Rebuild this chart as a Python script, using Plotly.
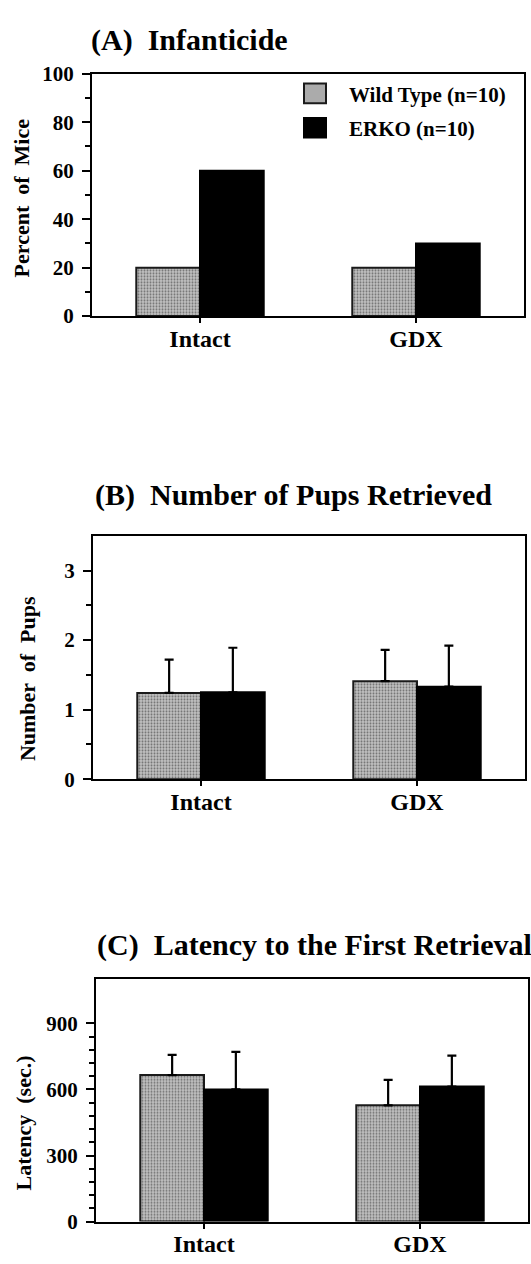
import plotly.graph_objects as go

# ---- data ----
groups = ["Intact", "GDX"]
series_names = ["Wild Type (n=10)", "ERKO (n=10)"]

infanticide_wt = [20, 20]
infanticide_erko = [60, 30]

pups_wt = [1.24, 1.41]
pups_wt_err = [0.48, 0.45]
pups_erko = [1.25, 1.33]
pups_erko_err = [0.64, 0.59]

latency_wt = [665, 528]
latency_wt_err = [92, 115]
latency_erko = [600, 613]
latency_erko_err = [170, 140]

panel_titles = ["(A)  Infanticide", "(B)  Number of Pups Retrieved",
                "(C)  Latency to the First Retrieval"]
y_titles = ["Percent  of  Mice", "Number  of  Pups", "Latency  (sec.)"]

# ---- page geometry (pixels) ----
W, H = 531, 1264
SERIF = "Liberation Serif, Times New Roman, serif"


def px_x(v):
    return v / W


def px_y(v):
    return 1 - v / H


# left, right, top, bottom of each plot box
boxes = [(92, 524, 63, 310), (93, 525, 534, 782), (96, 528, 986, 1233)]

WT_FILL = dict(shape=".", size=3, solidity=0.35, fgcolor="#707070",
               bgcolor="#c2c2c2", fillmode="replace")


def wt_marker():
    return dict(color="#ababab", pattern=WT_FILL,
                line=dict(color="#1a1a1a", width=2))


def erko_marker():
    return dict(color="black", line=dict(color="black", width=2))


def err(vals):
    return dict(type="data", symmetric=False, array=vals,
                arrayminus=[0] * len(vals), color="black",
                thickness=2.2, width=4.5)


fig = go.Figure()

panels = [
    (infanticide_wt, None, infanticide_erko, None),
    (pups_wt, pups_wt_err, pups_erko, pups_erko_err),
    (latency_wt, latency_wt_err, latency_erko, latency_erko_err),
]

for i, (wt, wt_e, ko, ko_e) in enumerate(panels):
    xa = "x" if i == 0 else f"x{i + 1}"
    ya = "y" if i == 0 else f"y{i + 1}"
    fig.add_trace(go.Bar(x=groups, y=wt, name=series_names[0],
                         marker=wt_marker(), xaxis=xa, yaxis=ya,
                         offsetgroup="wt", showlegend=False,
                         error_y=err(wt_e) if wt_e else None))
    fig.add_trace(go.Bar(x=groups, y=ko, name=series_names[1],
                         marker=erko_marker(), xaxis=xa, yaxis=ya,
                         offsetgroup="ko", showlegend=False,
                         error_y=err(ko_e) if ko_e else None))

y_ranges = [[0, 100], [0, 3.5], [0, 1100]]
y_ticks = [[0, 20, 40, 60, 80, 100], [0, 1, 2, 3], [0, 300, 600, 900]]
y_minor = [
    [v for v in range(10, 100, 20)],
    [0.5, 1.5, 2.5],
    [v for v in range(60, 900, 60) if v % 300 != 0],
]

layout = dict(
    width=W, height=H, margin=dict(l=0, r=0, t=0, b=0),
    paper_bgcolor="white", plot_bgcolor="white",
    barmode="group", bargap=0.41, bargroupgap=0,
    font=dict(family=SERIF, color="black", weight="bold"),
    showlegend=False,
)

annotations = []
shapes = []

for i, (l, r, t, b) in enumerate(boxes):
    sx = "" if i == 0 else str(i + 1)
    layout[f"xaxis{sx}"] = dict(
        domain=[px_x(l), px_x(r)], anchor=f"y{sx}", range=[-0.5, 1.5],
        showline=True, linecolor="black", linewidth=2, mirror=True,
        ticks="outside", ticklen=5, tickwidth=2, tickcolor="black",
        showgrid=False, zeroline=False, fixedrange=True,
        tickfont=dict(family=SERIF, size=24, color="black", weight="bold"),
        ticklabelstandoff=-5,
    )
    layout[f"yaxis{sx}"] = dict(
        domain=[px_y(b), px_y(t)], anchor=f"x{sx}", range=y_ranges[i],
        tickmode="array", tickvals=y_ticks[i],
        showline=True, linecolor="black", linewidth=2, mirror=True,
        ticks="outside", ticklen=8, tickwidth=2, tickcolor="black",
        minor=dict(tickmode="array", tickvals=y_minor[i], ticks="outside",
                   ticklen=5, tickwidth=2, tickcolor="black", showgrid=False),
        showgrid=False, zeroline=False, fixedrange=True,
        tickfont=dict(family=SERIF, size=21, color="black", weight="bold"),
        ticklabelstandoff=4,
    )

# panel headings
title_pos = [(89, 29), (93, 492), (95, 951)]
for (tx, ty), txt in zip(title_pos, panel_titles):
    annotations.append(dict(
        text=txt, xref="paper", yref="paper", x=px_x(tx), y=px_y(ty),
        xanchor="left", yanchor="middle", showarrow=False,
        font=dict(family=SERIF, size=30, color="black", weight="bold")))

# rotated axis titles
ytitle_pos = [(21, 190), (27, 680), (23, 1133)]
for (tx, ty), txt in zip(ytitle_pos, y_titles):
    annotations.append(dict(
        text=txt, xref="paper", yref="paper", x=px_x(tx), y=px_y(ty),
        xanchor="center", yanchor="middle", textangle=-90, showarrow=False,
        font=dict(family=SERIF, size=22, color="black", weight="bold")))

# key for panel A
key_rows = [(73, 93, 84.5), (108, 128, 119)]
for k, (top, bot, mid) in enumerate(key_rows):
    if k == 0:
        shapes.append(dict(type="rect", xref="paper", yref="paper",
                           x0=px_x(304), x1=px_x(326), y0=px_y(bot), y1=px_y(top),
                           fillcolor="#ababab", line=dict(color="#1a1a1a", width=2)))
    else:
        shapes.append(dict(type="rect", xref="paper", yref="paper",
                           x0=px_x(304), x1=px_x(326), y0=px_y(bot), y1=px_y(top),
                           fillcolor="black", line=dict(color="black", width=2)))
    annotations.append(dict(
        text=series_names[k], xref="paper", yref="paper",
        x=px_x(347), y=px_y(mid), xanchor="left", yanchor="middle",
        showarrow=False,
        font=dict(family=SERIF, size=21, color="black", weight="bold")))

layout["annotations"] = annotations
layout["shapes"] = shapes
fig.update_layout(**layout)

fig.write_html("out.html")
